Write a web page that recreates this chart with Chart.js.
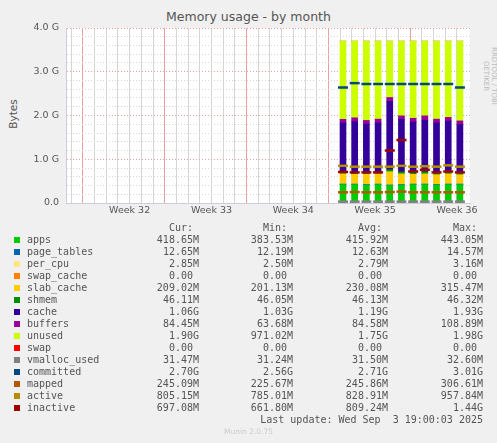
<!DOCTYPE html>
<html><head><meta charset="utf-8">
<script src="https://cdn.jsdelivr.net/npm/chart.js@4"></script>
<style>
body{margin:0;background:#f0f0f0;width:497px;height:443px;overflow:hidden;position:relative;font-family:"DejaVu Sans",sans-serif;color:#555}
#wrap{position:absolute;left:0;top:0;width:497px;height:225px}
.t{position:absolute;white-space:pre;font-family:"DejaVu Sans Mono",monospace;font-size:10px;line-height:12px}
.sw{position:absolute;width:6px;height:6px}
</style></head><body>
<div style="position:absolute;left:0;width:497px;top:9px;text-align:center;font-size:12.5px;color:#555">Memory usage - by month</div>
<div style="position:absolute;left:-12px;top:108px;width:50px;text-align:center;transform:rotate(-90deg);font-size:10.5px">Bytes</div>
<div style="position:absolute;left:445px;top:68px;width:90px;text-align:center;transform:rotate(90deg);font-size:7px;color:#bbb">RRDTOOL / TOBI OETIKER</div>
<div id="wrap"><canvas id="c" width="497" height="225"></canvas></div>
<div id="legend"></div>
<script>
var G = 1e9;
// bar positions in days (week boundaries fall on multiples of 7)
var days = [21.75, 22.75, 23.75, 24.75, 25.75, 26.75, 27.75, 28.75, 29.75, 30.75, 31.75];
var weekLabels = ["Week 32", "Week 33", "Week 34", "Week 35", "Week 36"];

var apps       = [0.42, 0.42, 0.41, 0.42, 0.40, 0.41, 0.42, 0.42, 0.41, 0.42, 0.42];
var pageTables = [0.013, 0.013, 0.013, 0.013, 0.013, 0.013, 0.013, 0.013, 0.013, 0.013, 0.013];
var perCpu     = [0.003, 0.003, 0.003, 0.003, 0.003, 0.003, 0.003, 0.003, 0.003, 0.003, 0.003];
var swapCache  = [0, 0, 0, 0, 0, 0, 0, 0, 0, 0, 0];
var slabCache  = [0.23, 0.22, 0.23, 0.23, 0.30, 0.24, 0.22, 0.23, 0.22, 0.23, 0.21];
var shmem      = [0.046, 0.046, 0.046, 0.046, 0.046, 0.046, 0.046, 0.046, 0.046, 0.046, 0.046];
var cache      = [1.12, 1.16, 1.10, 1.12, 1.56, 1.20, 1.15, 1.18, 1.14, 1.16, 1.10];
var buffers    = [0.08, 0.085, 0.085, 0.085, 0.09, 0.08, 0.085, 0.10, 0.085, 0.085, 0.085];
var total      = [3.70, 3.70, 3.70, 3.70, 3.70, 3.70, 3.70, 3.70, 3.70, 3.70, 3.70];
var unused = total.map(function (t, i) {
    return t - apps[i] - pageTables[i] - perCpu[i] - swapCache[i] - slabCache[i] - shmem[i] - cache[i] - buffers[i];
});
var swap       = [0, 0, 0, 0, 0, 0, 0, 0, 0, 0, 0];
var vmalloc    = [0.031, 0.031, 0.031, 0.031, 0.031, 0.031, 0.031, 0.031, 0.031, 0.031, 0.031];
var committed  = [2.64, 2.74, 2.72, 2.72, 2.72, 2.72, 2.72, 2.72, 2.72, 2.72, 2.64];
var mapped     = [0.245, 0.25, 0.245, 0.245, 0.25, 0.26, 0.245, 0.245, 0.245, 0.245, 0.245];
var active     = [0.85, 0.83, 0.83, 0.83, 0.83, 0.85, 0.83, 0.84, 0.83, 0.86, 0.83];
var inactive   = [0.71, 0.70, 0.70, 0.70, 1.20, 1.44, 0.72, 0.76, 0.70, 0.72, 0.70];

var legendRows = [
    ["apps", "#00cc00", "418.65M", "383.53M", "415.92M", "443.05M"],
    ["page_tables", "#0066b3", "12.65M", "12.19M", "12.63M", "14.57M"],
    ["per_cpu", "#ffe680", "2.85M", "2.50M", "2.79M", "3.16M"],
    ["swap_cache", "#ff8000", "0.00 ", "0.00 ", "0.00 ", "0.00 "],
    ["slab_cache", "#ffcc00", "209.02M", "201.13M", "230.08M", "315.47M"],
    ["shmem", "#008f00", "46.11M", "46.05M", "46.13M", "46.32M"],
    ["cache", "#330099", "1.06G", "1.03G", "1.19G", "1.93G"],
    ["buffers", "#990099", "84.45M", "63.68M", "84.58M", "108.89M"],
    ["unused", "#ccff00", "1.90G", "971.02M", "1.75G", "1.98G"],
    ["swap", "#ff0000", "0.00 ", "0.00 ", "0.00 ", "0.00 "],
    ["vmalloc_used", "#808080", "31.47M", "31.24M", "31.50M", "32.60M"],
    ["committed", "#00487d", "2.70G", "2.56G", "2.71G", "3.01G"],
    ["mapped", "#b35a00", "245.09M", "225.67M", "245.86M", "306.61M"],
    ["active", "#b38f00", "805.15M", "785.01M", "828.91M", "957.84M"],
    ["inactive", "#a00000", "697.08M", "661.80M", "809.24M", "1.44G"]
];

function pts(arr) {
    return arr.map(function (v, i) { return { x: days[i], y: v * G }; });
}
function area(label, arr, color) {
    return { type: 'bar', label: label, data: pts(arr), backgroundColor: color,
             barThickness: 6, stack: 'mem', order: 2 };
}
function line(label, arr, color) {
    return { type: 'line', label: label, data: pts(arr), showLine: false, stack: label,
             pointStyle: 'line', pointRadius: 5, pointHoverRadius: 5,
             borderColor: color, pointBorderWidth: 2.5, order: 1 };
}

var bg = {
    id: 'bg',
    beforeDraw: function (chart) {
        var a = chart.chartArea, ctx = chart.ctx;
        ctx.save();
        ctx.fillStyle = '#fff';
        ctx.fillRect(a.left, a.top, a.right - a.left, a.bottom - a.top);
        ctx.restore();
    }
};

var ctx = document.getElementById('c').getContext('2d');
var chart = new Chart(ctx, {
    data: {
        datasets: [
            area('apps', apps, '#00cc00'),
            area('page_tables', pageTables, '#0066b3'),
            area('per_cpu', perCpu, '#ffe680'),
            area('swap_cache', swapCache, '#ff8000'),
            area('slab_cache', slabCache, '#ffcc00'),
            area('shmem', shmem, '#008f00'),
            area('cache', cache, '#330099'),
            area('buffers', buffers, '#990099'),
            area('unused', unused, '#ccff00'),
            area('swap', swap, '#ff0000'),
            line('vmalloc_used', vmalloc, '#808080'),
            line('committed', committed, '#00487d'),
            line('mapped', mapped, '#b35a00'),
            line('active', active, '#b38f00'),
            line('inactive', inactive, '#a00000')
        ]
    },
    options: {
        responsive: false,
        animation: false,
        layout: { padding: { left: 0, right: 27, top: 28, bottom: 0 } },
        plugins: { legend: { display: false }, tooltip: { enabled: false } },
        scales: {
            x: {
                type: 'linear', stacked: true, min: -1.5, max: 32.17,
                afterBuildTicks: function (s) {
                    var t = [];
                    for (var d = -1; d <= 32; d++) t.push({ value: d });
                    for (var k = 0; k < weekLabels.length; k++) t.push({ value: 3.5 + 7 * k, lbl: weekLabels[k] });
                    s.ticks = t;
                },
                afterFit: function (s) { s.height = 22; },
                ticks: {
                    autoSkip: false, maxRotation: 0, padding: 2,
                    color: '#555', font: { family: 'DejaVu Sans', size: 9.5 },
                    callback: function (v, i, ticks) { return ticks[i].lbl || ''; }
                },
                grid: {
                    drawTicks: false,
                    color: function (c) {
                        if (!c.tick || c.tick.lbl) return 'rgba(0,0,0,0)';
                        return c.tick.value % 7 === 0 ? '#e8a0a0' : '#d6d6d6';
                    },
                    borderDash: [1, 2]
                },
                border: { color: '#ccd', dash: [] }
            },
            y: {
                stacked: true, min: 0, max: 4 * G,
                afterFit: function (s) { s.width = 66; },
                afterBuildTicks: function (s) {
                    var t = [];
                    for (var i = 0; i <= 20; i++) t.push({ value: i * 0.2 * G });
                    s.ticks = t;
                },
                ticks: {
                    autoSkip: false, padding: 7, color: '#555',
                    font: { family: 'DejaVu Sans', size: 9.5 },
                    callback: function (v) {
                        var g = Math.round(v / G * 10) / 10;
                        if (Math.abs(g - Math.round(g)) > 1e-6) return '';
                        return g === 0 ? '0.0' : g.toFixed(1) + ' G';
                    }
                },
                grid: {
                    drawTicks: false,
                    color: function (c) {
                        if (!c.tick) return '#d6d6d6';
                        var g = Math.round(c.tick.value / G * 10) / 10;
                        return Math.abs(g - Math.round(g)) < 1e-6 ? '#e8a0a0' : '#d6d6d6';
                    }
                },
                border: { color: '#ccd', dash: [1, 2] }
            }
        }
    },
    plugins: [bg]
});

// legend table below the plot, munin style
var lg = document.getElementById('legend');
function put(text, left, top, right) {
    var d = document.createElement('div');
    d.className = 't';
    d.textContent = text;
    d.style.top = (top - 6) + 'px';
    if (right !== undefined) { d.style.right = (497 - right) + 'px'; d.style.textAlign = 'right'; }
    else d.style.left = left + 'px';
    lg.appendChild(d);
}
var cols = [199, 293, 388, 483];
["Cur:", "Min:", "Avg:", "Max:"].forEach(function (h, j) { put(h + " ", 0, 228, cols[j]); });
legendRows.forEach(function (r, i) {
    var y = 240 + i * 12;
    var s = document.createElement('div');
    s.className = 'sw';
    s.style.left = '14px'; s.style.top = (y - 3) + 'px'; s.style.background = r[1];
    lg.appendChild(s);
    put(r[0], 27, y);
    for (var j = 0; j < 4; j++) put(r[2 + j], 0, y, cols[j]);
});
put("Last update: Wed Sep  3 19:00:03 2025", 0, 420, 483);
var m = document.createElement('div');
m.style.cssText = 'position:absolute;left:0;width:497px;top:427px;text-align:center;font-size:7.5px;color:#ccc';
m.textContent = 'Munin 2.0.75';
lg.appendChild(m);
</script>
</body></html>
